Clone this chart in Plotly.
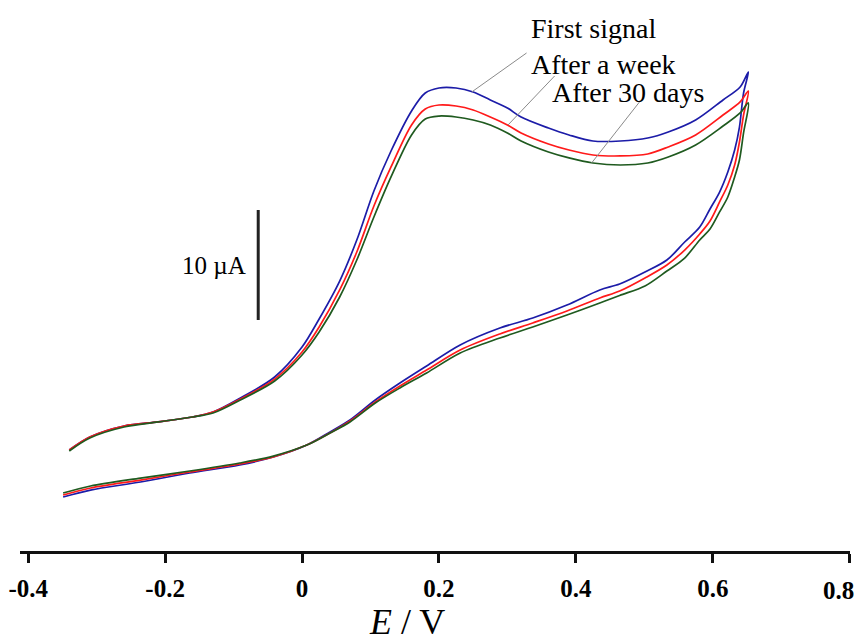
import plotly.graph_objects as go

# ---------------- data (E in V, current in µA, arbitrary offset) ----------------
E_forward = [-0.34, -0.31, -0.26, -0.21, -0.16, -0.13, -0.09, -0.04, 0.0, 0.025, 0.055, 0.08,
             0.105, 0.13, 0.16, 0.18, 0.20, 0.225, 0.25, 0.275, 0.30, 0.32, 0.36, 0.39,
             0.425, 0.465, 0.505, 0.535, 0.575, 0.615, 0.64, 0.652]
E_reverse = [0.645, 0.639, 0.632, 0.622, 0.610, 0.596, 0.581, 0.559, 0.533, 0.501, 0.464, 0.435,
             0.387, 0.337, 0.289, 0.231, 0.182, 0.143, 0.107, 0.070, 0.041, 0.007, -0.042,
             -0.091, -0.164, -0.236, -0.309, -0.349]

first_fwd = [9.00, 10.18, 11.18, 11.55, 12.00, 12.45, 13.73, 15.64, 18.36, 20.91, 24.36, 28.09,
             32.55, 36.18, 39.82, 41.45, 41.91, 41.91, 41.55, 40.82, 40.09, 39.27, 38.27, 37.64,
             37.09, 37.09, 37.36, 37.91, 39.00, 40.82, 42.00, 43.36]
first_rev = [41.45, 38.36, 36.27, 34.27, 32.45, 30.91, 29.27, 27.91, 26.27, 25.18, 24.09, 23.55,
             22.18, 21.00, 20.09, 18.55, 16.64, 15.09, 13.55, 11.73, 10.64, 9.45, 8.36, 7.64,
             6.91, 6.09, 5.36, 4.73]

week_fwd = [9.00, 10.18, 11.18, 11.55, 12.00, 12.45, 13.64, 15.45, 17.91, 20.18, 23.55, 27.00,
            31.18, 34.73, 38.55, 40.00, 40.36, 40.27, 39.91, 39.27, 38.55, 37.82, 36.82, 36.27,
            35.82, 35.73, 35.91, 36.55, 37.64, 39.45, 40.64, 41.64]
week_rev = [39.45, 37.00, 34.91, 33.09, 31.55, 29.82, 28.64, 27.18, 25.82, 24.64, 23.45, 22.82,
            21.64, 20.55, 19.55, 18.09, 16.27, 14.82, 13.36, 11.64, 10.55, 9.45, 8.36, 7.73,
            7.00, 6.27, 5.55, 4.91]

days30_fwd = [8.91, 10.09, 11.09, 11.55, 12.00, 12.36, 13.55, 15.27, 17.64, 19.73, 22.91, 26.27,
              30.18, 33.82, 37.64, 39.09, 39.36, 39.27, 39.00, 38.55, 37.82, 37.09, 36.09, 35.55,
              35.09, 34.91, 35.09, 35.64, 36.73, 38.45, 39.64, 40.55]
days30_rev = [37.82, 35.36, 33.82, 32.00, 30.64, 29.09, 28.09, 26.45, 25.27, 23.91, 23.05, 22.36,
              21.27, 20.18, 19.18, 17.82, 16.00, 14.64, 13.27, 11.55, 10.55, 9.45, 8.45, 7.82,
              7.09, 6.45, 5.73, 5.09]

series_names = ["First signal", "After a week", "After 30 days"]
tick_vals = [-0.4, -0.2, 0.0, 0.2, 0.4, 0.6, 0.8]
tick_text = ["-0.4", "-0.2", "0", "0.2", "0.4", "0.6", "0.8"]
scale_bar_value = 10  # µA
scale_bar_label = "10 µA"

# ---------------- figure ----------------
colors = ["#1c1ca8", "#ff1a1a", "#1f5a1f"]
data = [(first_fwd, first_rev), (week_fwd, week_rev), (days30_fwd, days30_rev)]

fig = go.Figure()
for (fwd, rev), name, col in zip(data, series_names, colors):
    fig.add_trace(go.Scatter(
        x=E_forward + E_reverse, y=fwd + rev, mode="lines", name=name,
        line=dict(color=col, width=1.7, shape="spline", smoothing=0.9),
        showlegend=False, hoverinfo="skip"))

serif = "Liberation Serif, Times New Roman, serif"
tick_font = dict(family=serif, size=25, color="black", weight="bold")

# scale bar
sb_x, sb_y0 = -0.064, 20.82
fig.add_shape(type="line", xref="x", yref="y", x0=sb_x, x1=sb_x,
              y0=sb_y0, y1=sb_y0 + scale_bar_value,
              line=dict(color="#222222", width=3))
fig.add_annotation(x=-0.128, y=25.8, xref="x", yref="y", text=scale_bar_label,
                   showarrow=False, font=dict(family=serif, size=25, color="black"),
                   xanchor="center", yanchor="middle")

# labels with leader lines
labels = [
    (series_names[0], 0.426, 47.3, (0.328, 45.09, 0.248, 41.55)),
    (series_names[1], 0.441, 44.0, (0.369, 43.0, 0.301, 38.55)),
    (series_names[2], 0.476, 41.5, (0.493, 40.64, 0.423, 35.09)),
]
for text, tx, ty, (lx0, ly0, lx1, ly1) in labels:
    fig.add_annotation(x=tx, y=ty, xref="x", yref="y", text=text, showarrow=False,
                       font=dict(family=serif, size=28, color="black"),
                       xanchor="center", yanchor="middle")
    fig.add_shape(type="line", xref="x", yref="y", x0=lx0, y0=ly0, x1=lx1, y1=ly1,
                  line=dict(color="#8a8a8a", width=1))

# last tick label sits against the right edge (shifted left as in the original)
fig.add_annotation(x=tick_vals[-1], y=-0.072, xref="x", yref="paper", text=tick_text[-1],
                   showarrow=False, font=tick_font, xanchor="right", yanchor="middle",
                   xshift=6)

# axis title
fig.add_annotation(x=0.153, y=-0.09, xref="x", yref="paper",
                   text="<i>E</i> / V", showarrow=False,
                   font=dict(family=serif, size=36, color="black"),
                   xanchor="center", yanchor="top")

fig.update_layout(
    width=854, height=633,
    margin=dict(l=12, r=12, t=0, b=90),
    paper_bgcolor="white", plot_bgcolor="white",
    xaxis=dict(range=[-0.412, 0.8005], showgrid=False, zeroline=False,
               showline=True, linecolor="#111111", linewidth=3,
               ticks="outside", ticklen=9, tickwidth=2.5, tickcolor="#111111",
               tickvals=tick_vals, ticktext=tick_text[:-1] + [""],
               ticklabelstandoff=4, tickfont=tick_font),
    yaxis=dict(range=[-0.18, 49.18], visible=False, showgrid=False, zeroline=False),
)

fig.write_html("out.html")
